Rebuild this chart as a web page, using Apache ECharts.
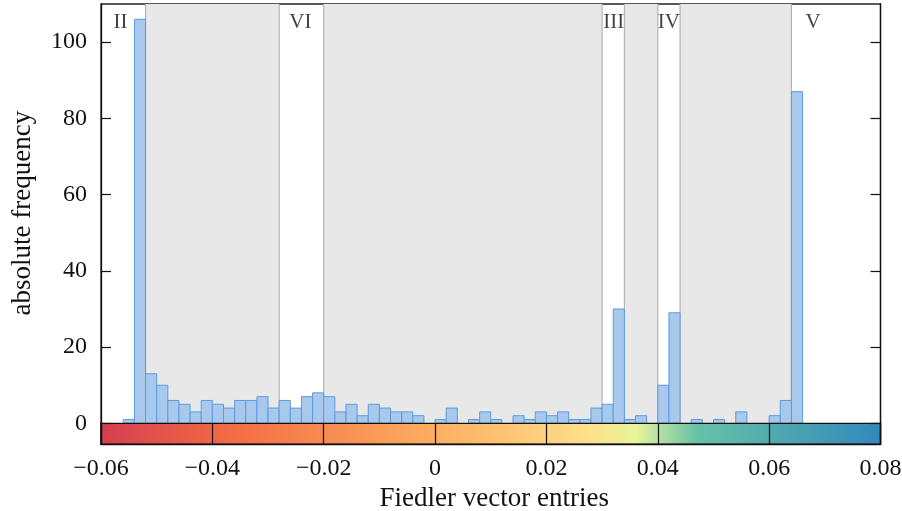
<!DOCTYPE html>
<html>
<head>
<meta charset="utf-8">
<script src="https://cdn.jsdelivr.net/npm/echarts@6/dist/echarts.min.js"></script>
<style>
  html, body { margin: 0; padding: 0; background: #fff; }
  #chart { width: 902px; height: 511px; }
</style>
</head>
<body>
<div id="chart"></div>
<script>
// Histogram of Fiedler vector entries, bins of width 0.002 starting at -0.056
const binStart = -0.056;
const binWidth = 0.002;
const counts = [1, 106, 13, 10, 6, 5, 3, 6, 5, 4, 6, 6, 7, 4, 6, 4, 7, 8, 7, 3,
                5, 2, 5, 4, 3, 3, 2, 0, 1, 4, 0, 1, 3, 1, 0, 2, 1, 3, 2, 3,
                1, 1, 4, 5, 30, 1, 2, 0, 10, 29, 0, 1, 0, 1, 0, 3, 0, 0, 2, 6, 87];

// Shaded intervals between clusters and the separating boundaries
const shadedIntervals = [[-0.052, -0.028], [-0.020, 0.030], [0.034, 0.040], [0.044, 0.064]];
const boundaries = [-0.052, -0.028, -0.020, 0.030, 0.034, 0.040, 0.044, 0.064];

// Cluster names and the x position where each is written
const clusterNames = ['II', 'VI', 'III', 'IV', 'V'];
const clusterPos = [-0.0565, -0.0242, 0.0321, 0.0420, 0.0679];

// Axis ticks
const xTicks = [-0.06, -0.04, -0.02, 0, 0.02, 0.04, 0.06, 0.08];
const yTicks = [0, 20, 40, 60, 80, 100];

// Colour bar under the baseline (spectral map)
const cbarColors = ['#d53e4f', '#f46d43', '#fdae61', '#fee08b', '#e6f598', '#abdda4', '#66c2a5', '#3288bd'];
const cbarStops = [-0.06, -0.036, 0.0, 0.028, 0.036, 0.041, 0.047, 0.08];

const X_MIN = -0.06, X_MAX = 0.08, Y_MIN = -5.5, Y_MAX = 110;
const FONT = '"Liberation Serif", "DejaVu Serif", serif';

const binData = counts.map((c, i) => [binStart + i * binWidth, binStart + (i + 1) * binWidth, c]);
const labelData = clusterNames.map((n, i) => [clusterPos[i], 105.1, n]);

function fmtTick(v) {
  const r = Math.round(v * 100) / 100;
  if (r === 0) return '0';
  const s = Math.abs(r).toFixed(2);
  return r < 0 ? '\u2212' + s : s;
}

const chart = echarts.init(document.getElementById('chart'), null, { renderer: 'canvas' });

const option = {
  backgroundColor: '#ffffff',
  animation: false,
  textStyle: { fontFamily: FONT },
  grid: {
    left: 101, right: 21.5, top: 4, bottom: 66.7,
    show: true, borderColor: '#222', borderWidth: 1.3,
    outerBoundsMode: 'none'
  },
  xAxis: {
    type: 'value', min: X_MIN, max: X_MAX, interval: 0.02, z: 10,
    name: 'Fiedler vector entries', nameLocation: 'middle', nameGap: 35,
    nameTextStyle: { fontFamily: FONT, fontSize: 27, color: '#111', padding: [0, 0, 0, 7] },
    axisLine: { show: true, onZero: false, lineStyle: { color: '#111', width: 1.3 } },
    axisTick: { show: true, inside: true, length: 21, lineStyle: { color: '#111', width: 1.2 } },
    axisLabel: {
      fontFamily: FONT, fontSize: 24, color: '#111', margin: 12,
      customValues: xTicks, formatter: fmtTick, showMinLabel: true, showMaxLabel: true
    },
    splitLine: { show: false }
  },
  yAxis: [{
    type: 'value', min: Y_MIN, max: Y_MAX, position: 'left', z: 10,
    name: 'absolute frequency', nameLocation: 'middle', nameGap: 65,
    nameTextStyle: { fontFamily: FONT, fontSize: 27, color: '#111', padding: [0, 0, 0, 22] },
    axisLine: { show: true, onZero: false, lineStyle: { color: '#111', width: 1.3 } },
    axisTick: { show: true, inside: true, length: 10, customValues: yTicks, lineStyle: { color: '#111', width: 1.2 } },
    axisLabel: { fontFamily: FONT, fontSize: 24, color: '#111', margin: 14, customValues: yTicks },
    splitLine: { show: false }
  }, {
    type: 'value', min: Y_MIN, max: Y_MAX, position: 'right', z: 10,
    axisLine: { show: true, onZero: false, lineStyle: { color: '#111', width: 1.3 } },
    axisTick: { show: true, inside: true, length: 10, customValues: yTicks, lineStyle: { color: '#111', width: 1.2 } },
    axisLabel: { show: false },
    splitLine: { show: false }
  }],
  series: [
    {
      // grey intervals
      type: 'custom', z: 1, silent: true,
      data: shadedIntervals,
      renderItem: (params, api) => {
        const p0 = api.coord([api.value(0), Y_MAX]);
        const p1 = api.coord([api.value(1), 0]);
        return { type: 'rect', shape: { x: p0[0], y: p0[1], width: p1[0] - p0[0], height: p1[1] - p0[1] },
                 style: { fill: '#e8e8e8' } };
      }
    },
    {
      // boundary lines
      type: 'custom', z: 2, silent: true,
      data: boundaries.map(b => [b]),
      renderItem: (params, api) => {
        const p0 = api.coord([api.value(0), Y_MAX]);
        const p1 = api.coord([api.value(0), 0]);
        return { type: 'line', shape: { x1: p0[0], y1: p0[1], x2: p1[0], y2: p1[1] },
                 style: { stroke: '#b4b4b4', lineWidth: 1.2 } };
      }
    },
    {
      // histogram bars
      type: 'custom', z: 3, silent: true,
      data: binData,
      renderItem: (params, api) => {
        const c = api.value(2);
        if (!c) return null;
        const p0 = api.coord([api.value(0), c]);
        const p1 = api.coord([api.value(1), 0]);
        return { type: 'rect', shape: { x: p0[0], y: p0[1], width: p1[0] - p0[0], height: p1[1] - p0[1] },
                 style: { fill: '#a8c8ec', stroke: '#5b9be3', lineWidth: 1 } };
      }
    },
    {
      // colour bar under the baseline
      type: 'custom', z: 4, silent: true,
      data: [[X_MIN, X_MAX]],
      renderItem: (params, api) => {
        const p0 = api.coord([api.value(0), 0]);
        const p1 = api.coord([api.value(1), Y_MIN]);
        const stops = cbarColors.map((col, i) => ({ offset: (cbarStops[i] - X_MIN) / (X_MAX - X_MIN), color: col }));
        return { type: 'rect', shape: { x: p0[0], y: p0[1], width: p1[0] - p0[0], height: p1[1] - p0[1] },
                 style: { fill: new echarts.graphic.LinearGradient(0, 0, 1, 0, stops), stroke: '#111', lineWidth: 1.4 } };
      }
    },
    {
      // cluster names
      type: 'scatter', z: 5, silent: true, symbolSize: 0,
      data: labelData,
      label: {
        show: true, position: 'inside', formatter: p => p.data[2],
        fontFamily: FONT, fontSize: 21, color: '#111'
      }
    }
  ]
};

chart.setOption(option);
</script>
</body>
</html>
